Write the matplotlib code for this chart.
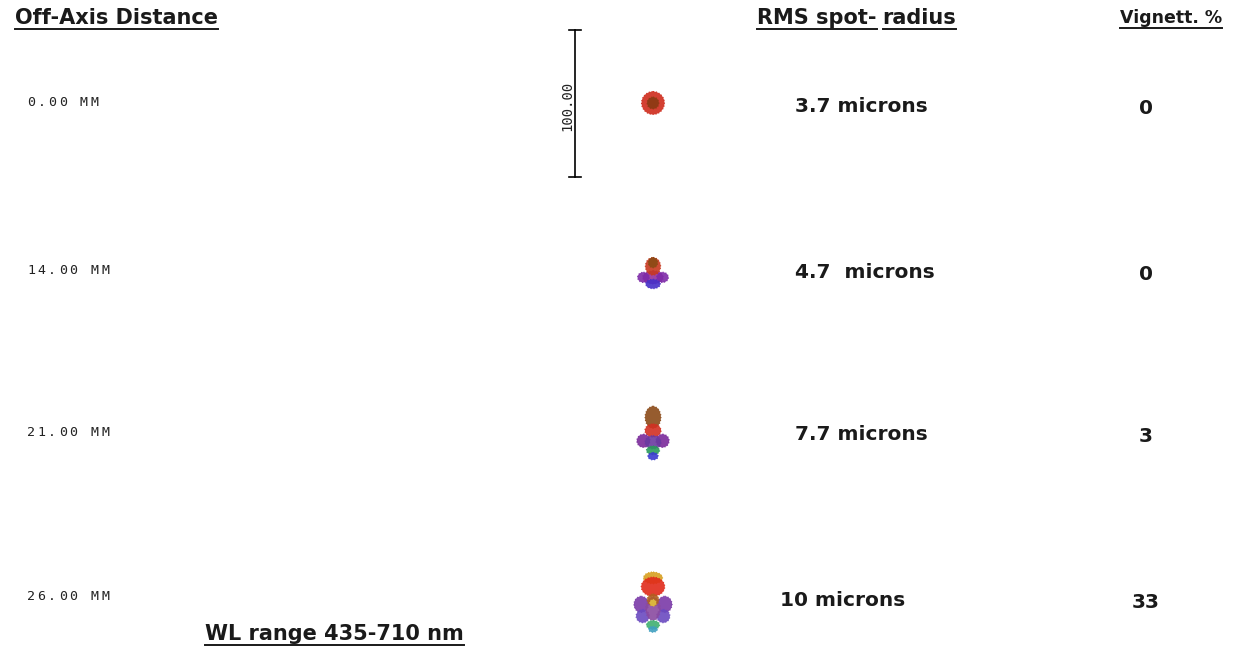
import matplotlib
matplotlib.use('Agg')
import matplotlib.pyplot as plt
from matplotlib.patches import Ellipse

# field rows
field_labels = ['0.00 MM', '14.00 MM', '21.00 MM', '26.00 MM']
rms_labels = ['3.7 microns', '4.7  microns', '7.7 microns', '10 microns']
vignetting = ['0', '0', '3', '33']
scale_bar_um = 100.0

# spot blobs per field, microns from spot centre: (dx, dy, rx, ry, colour)
spot_0 = [(0, 0, 7.8, 7.8, '#cf2b1c'), (0, 0, 4.0, 4.0, '#8a3a12')]
spot_1 = [(0, -5, 7.0, 4.5, '#93309a'), (-6.5, -5, 4.0, 3.5, '#7d2aa8'),
          (6.5, -5, 4.0, 3.5, '#7d2aa8'), (0, -9.5, 5.0, 3.2, '#4630c8'),
          (0, 2.5, 5.2, 6.0, '#c8381f'), (0, 5, 3.2, 3.5, '#8a4a14')]
spot_2 = [(0, 10, 5.4, 7.5, '#8b4a18'), (0, 1, 5.5, 4.5, '#d23022'),
          (-6.5, -6, 4.5, 4.5, '#7a2a9a'), (6.5, -6, 4.5, 4.5, '#7a2a9a'),
          (0, -7, 5.5, 4.5, '#6a3aa0'), (0, -12.5, 4.5, 3.0, '#2a9a5a'),
          (0, -16.5, 3.5, 2.5, '#3a3ad0')]
spot_3 = [(0, 13, 6.5, 4.0, '#d8a020'), (0, 7, 8.0, 6.5, '#e02a1a'),
          (-8, -5, 5.0, 5.5, '#7a3aa8'), (8, -5, 5.0, 5.5, '#7a3aa8'),
          (-7, -13, 4.5, 4.5, '#6a4ac0'), (7, -13, 4.5, 4.5, '#6a4ac0'),
          (0, -8, 5.0, 8.0, '#8a4aa0'), (0, -2, 4.0, 4.0, '#b06020'),
          (0, -4, 2.2, 2.2, '#e0c040'), (0, -19, 4.5, 3.0, '#40b070'),
          (0, -22, 3.0, 2.0, '#40a0c0')]
spots = [spot_0, spot_1, spot_2, spot_3]

W, H = 1233, 664
fig = plt.figure(figsize=(W / 100, H / 100), dpi=100)
ax = fig.add_axes([0, 0, 1, 1])
ax.set_xlim(0, W)
ax.set_ylim(H, 0)
ax.axis('off')

row_y = [103, 270, 432, 597]
spot_x = 653
px_per_um = 1.47
hfont = dict(family='DejaVu Sans', fontweight='bold', color='#1a1a1a')
mono = dict(family='DejaVu Sans Mono', fontsize=9.5, color='#222222')


def mono_text(x, y, s, pitch=10.6):
    # wide pixel-style label, one character per cell
    for i, ch in enumerate(s):
        ax.text(x + i * pitch, y, ch, ha='left', va='center', **mono)


def extent(t):
    fig.canvas.draw()
    return t.get_window_extent(fig.canvas.get_renderer())


def underline(t):
    bb = extent(t)
    y = H - bb.y0 + 1
    ax.plot([bb.x0, bb.x1], [y, y], color='#1a1a1a', lw=1.4)


hs = 15
headers = []
headers.append(ax.text(15, 18, 'Off-Axis Distance', fontsize=hs, va='center', **hfont))
rms = ax.text(757, 18, 'RMS spot-', fontsize=hs, va='center', **hfont)
headers.append(rms)
headers.append(ax.text(extent(rms).x1 + 6, 18, 'radius', fontsize=hs, va='center', **hfont))
headers.append(ax.text(1222, 18, 'Vignett. %', fontsize=12.5, va='center', ha='right', **hfont))
headers.append(ax.text(205, 634, 'WL range 435-710 nm', fontsize=hs, va='center', **hfont))
for t in headers:
    underline(t)

for i, y in enumerate(row_y):
    mono_text(27, y, field_labels[i])
    ax.text(795 if i < 3 else 780, y + 3, rms_labels[i], fontsize=14.5, va='center', **hfont)
    ax.text(1146, y + 5, vignetting[i], fontsize=14.5, va='center', ha='center', **hfont)
    for dx, dy, rx, ry, c in spots[i]:
        e = Ellipse((spot_x + dx * px_per_um, y - dy * px_per_um),
                    2 * rx * px_per_um, 2 * ry * px_per_um,
                    facecolor=c, edgecolor=c, lw=0.8, ls=':', alpha=0.9)
        ax.add_patch(e)

# scale bar
bar_half = scale_bar_um / 2 * px_per_um
ax.plot([575, 575], [row_y[0] - bar_half, row_y[0] + bar_half], color='black', lw=1.2)
for yy in (row_y[0] - bar_half, row_y[0] + bar_half):
    ax.plot([569, 581], [yy, yy], color='black', lw=1.2)
ax.text(567, row_y[0] + 3, '100.00', rotation=90, ha='center', va='center',
        family='DejaVu Sans Mono', fontsize=10, color='#222222')

fig.savefig('out.png', dpi=100)
